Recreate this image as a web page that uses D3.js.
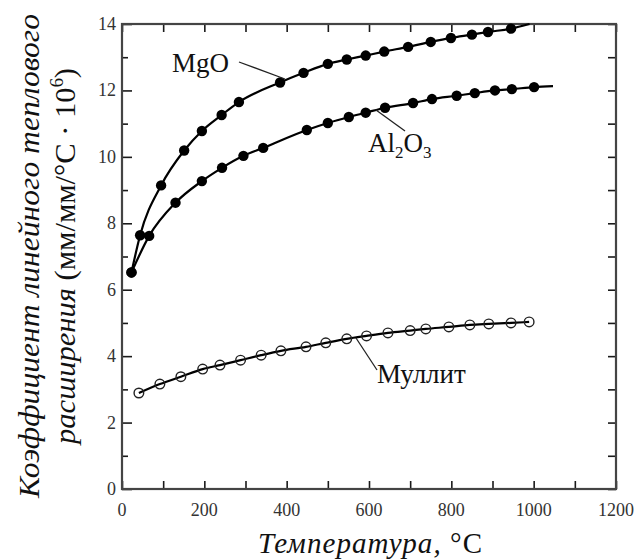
<!DOCTYPE html>
<html><head><meta charset="utf-8">
<script src="https://cdn.jsdelivr.net/npm/d3@7"></script>
<style>body{margin:0;background:#fff}svg{display:block}</style>
</head><body>
<script>
// ---- data ----
const mgoT = [23, 44, 95, 151, 194, 242, 284, 384, 441, 500, 546, 592, 637, 695, 750, 799, 850, 889, 945];
const mgoV = [6.52, 7.64, 9.14, 10.19, 10.78, 11.26, 11.65, 12.24, 12.53, 12.8, 12.93, 13.05, 13.17, 13.31, 13.46, 13.58, 13.68, 13.76, 13.86];
const mgoLineEnd = [990, 14.0];
const alT = [23, 66, 130, 194, 243, 295, 343, 449, 500, 551, 592, 639, 707, 753, 813, 857, 906, 947, 1001];
const alV = [6.52, 7.62, 8.62, 9.27, 9.67, 10.03, 10.27, 10.81, 11.02, 11.2, 11.33, 11.48, 11.62, 11.74, 11.84, 11.92, 12.0, 12.04, 12.1];
const alLineEnd = [1047, 12.13];
const mulT = [41, 92, 143, 196, 238, 288, 338, 386, 447, 495, 546, 594, 646, 700, 738, 794, 845, 891, 945, 989];
const mulV = [2.89, 3.16, 3.38, 3.61, 3.73, 3.88, 4.03, 4.16, 4.28, 4.4, 4.52, 4.61, 4.7, 4.77, 4.82, 4.88, 4.94, 4.97, 5.0, 5.03];
const xTicks = [0, 200, 400, 600, 800, 1000, 1200];
const yTicks = [0, 2, 4, 6, 8, 10, 12, 14];

const W = 636, H = 560;
const L = 122, R = 616, T = 24, B = 489;
const svg = d3.select("body").append("svg").attr("width", W).attr("height", H);
const x = d3.scaleLinear().domain([0, 1200]).range([L, R]);
const y = d3.scaleLinear().domain([0, 14]).range([B, T]);
const serif = "'Liberation Serif','Times New Roman',serif";
const ink = "#1a1a1a";

// axes (ticks inward on all sides)
const g = svg.append("g").attr("font-family", serif);
const minorX = d3.range(0, 1201, 100);
const minorY = d3.range(0, 15, 1);
function axisLines(sel) {
  sel.selectAll(".domain").remove();
  sel.selectAll("line").attr("stroke", ink).attr("stroke-width", 1.6);
}
g.append("g").attr("transform", `translate(0,${B})`)
  .call(d3.axisBottom(x).tickValues(minorX).tickSize(-8).tickFormat(""))
  .call(axisLines);
g.append("g").attr("transform", `translate(0,${T})`)
  .call(d3.axisTop(x).tickValues(minorX).tickSize(-8).tickFormat(""))
  .call(axisLines);
g.append("g").attr("transform", `translate(${L},0)`)
  .call(d3.axisLeft(y).tickValues(minorY.filter(v => v % 2)).tickSize(-6).tickFormat(""))
  .call(axisLines);
g.append("g").attr("transform", `translate(${L},0)`)
  .call(d3.axisLeft(y).tickValues(yTicks).tickSize(-10).tickFormat(""))
  .call(axisLines);
g.append("g").attr("transform", `translate(${R},0)`)
  .call(d3.axisRight(y).tickValues(minorY).tickSize(-8).tickFormat(""))
  .call(axisLines);
// tick labels
g.append("g").selectAll("text").data(xTicks).join("text")
  .attr("x", d => x(d)).attr("y", B + 27).attr("text-anchor", "middle")
  .attr("font-family", serif)
  .attr("font-size", 18).attr("fill", "#333").text(d => d);
g.append("g").selectAll("text").data(yTicks).join("text")
  .attr("x", L - 6).attr("y", d => y(d) + 6).attr("text-anchor", "end")
  .attr("font-family", serif)
  .attr("font-size", 18).attr("fill", "#333").text(d => d);
// frame
svg.append("rect").attr("x", L).attr("y", T).attr("width", R - L).attr("height", B - T)
  .attr("fill", "none").attr("stroke", "#444").attr("stroke-width", 2.2);

// lines
const line = d3.line().x(d => x(d[0])).y(d => y(d[1])).curve(d3.curveMonotoneX);
const plot = svg.append("g");
const mgo = mgoT.map((t, i) => [t, mgoV[i]]);
const al = alT.map((t, i) => [t, alV[i]]);
const mul = mulT.map((t, i) => [t, mulV[i]]);
plot.append("path").attr("d", line(mgo.concat([mgoLineEnd]))).attr("fill", "none").attr("stroke", "#000").attr("stroke-width", 2.2);
plot.append("path").attr("d", line(al.concat([alLineEnd]))).attr("fill", "none").attr("stroke", "#000").attr("stroke-width", 2.2);
plot.append("path").attr("d", line(mul)).attr("fill", "none").attr("stroke", "#000").attr("stroke-width", 2.2);
plot.selectAll(".m").data(mgo.concat(al)).join("circle")
  .attr("cx", d => x(d[0])).attr("cy", d => y(d[1])).attr("r", 5.2).attr("fill", "#000");
plot.selectAll(".o").data(mul).join("circle")
  .attr("cx", d => x(d[0])).attr("cy", d => y(d[1])).attr("r", 4.8)
  .attr("fill", "none").attr("stroke", "#222").attr("stroke-width", 1.4);

// series labels with leader lines
const lab = svg.append("g").attr("font-family", serif).attr("fill", "#111");
lab.append("text").attr("x", 172).attr("y", 72).attr("font-size", 27).text("MgO");
svg.append("line").attr("x1", 239).attr("y1", 62).attr("x2", 285).attr("y2", 79).attr("stroke", "#222").attr("stroke-width", 1.3);
const alText = lab.append("text").attr("x", 368).attr("y", 152).attr("font-size", 27);
alText.append("tspan").text("Al");
alText.append("tspan").attr("font-size", 17).attr("dy", 6).text("2");
alText.append("tspan").attr("dy", -6).text("O");
alText.append("tspan").attr("font-size", 17).attr("dy", 6).text("3");
svg.append("line").attr("x1", 376).attr("y1", 110).attr("x2", 405).attr("y2", 131).attr("stroke", "#222").attr("stroke-width", 1.3);
lab.append("text").attr("x", 377).attr("y", 383).attr("font-size", 27).text("Муллит");
svg.append("line").attr("x1", 356).attr("y1", 338).attr("x2", 377).attr("y2", 370).attr("stroke", "#222").attr("stroke-width", 1.3);

// axis titles
const xt = svg.append("text").attr("font-family", serif).attr("fill", "#111")
  .attr("x", 258).attr("y", 553).attr("font-size", 29)
  .attr("textLength", 224).attr("lengthAdjust", "spacing");
xt.append("tspan").attr("font-style", "italic").text("Температура, ");
xt.append("tspan").text("°C");

const yt = svg.append("g").attr("transform", "translate(0,256) rotate(-90)").attr("font-family", serif).attr("fill", "#111");
yt.append("text").attr("x", 0).attr("y", 39).attr("text-anchor", "middle").attr("font-size", 30)
  .attr("font-style", "italic").attr("textLength", 484).attr("lengthAdjust", "spacingAndGlyphs")
  .text("Коэффициент линейного теплового");
const y2 = yt.append("text").attr("x", 0).attr("y", 75).attr("text-anchor", "middle").attr("font-size", 30)
  .attr("textLength", 376).attr("lengthAdjust", "spacingAndGlyphs");
y2.append("tspan").attr("font-style", "italic").text("расширения ");
y2.append("tspan").text("(мм/мм/°C · 10");
y2.append("tspan").attr("font-size", 18).attr("dy", -12).text("6");
y2.append("tspan").attr("dy", 12).text(")");
</script>
</body></html>
